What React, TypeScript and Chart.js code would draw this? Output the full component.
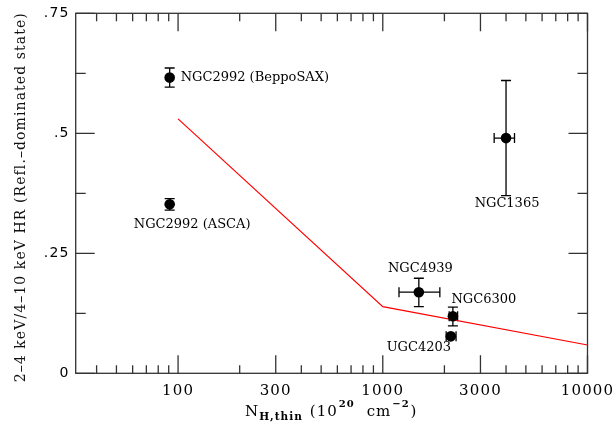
import React, { useEffect, useRef } from 'react';
import { Chart, registerables } from 'chart.js';

Chart.register(...registerables);

// ---- data ----
const SOURCES = ['NGC2992 (BeppoSAX)', 'NGC2992 (ASCA)', 'NGC1365', 'NGC4939', 'NGC6300', 'UGC4203'];
const NH = [91, 91, 4000, 1500, 2200, 2150];
const NH_LO = [91, 91, 3500, 1200, 2110, 2040];
const NH_HI = [91, 91, 4400, 1900, 2320, 2280];
const HR = [0.616, 0.352, 0.49, 0.169, 0.119, 0.077];
const HR_LO = [0.596, 0.34, 0.37, 0.139, 0.099, 0.077];
const HR_HI = [0.636, 0.364, 0.61, 0.198, 0.138, 0.077];

const MODEL_NH = [100, 1000, 10000];
const MODEL_HR = [0.53, 0.139, 0.059];

const X_MIN = 31.62;
const X_MAX = 10000;
const X_TICKS = [100, 300, 1000, 3000, 10000];
const X_TICK_LABELS = ['100', '300', '1000', '3000', '10000'];
const X_MINOR = [40, 50, 60, 70, 80, 90, 200, 400, 500, 600, 700, 800, 900, 2000, 4000, 5000, 6000, 7000, 8000, 9000];
const Y_MIN = 0;
const Y_MAX = 0.75;
const Y_TICKS = [0, 0.25, 0.5, 0.75];
const Y_TICK_LABELS = ['0', '.25', '.5', '.75'];
const Y_MINOR = [0.125, 0.375, 0.625];

const Y_TITLE = '2–4 keV/4–10 keV HR (Refl.–dominated state)';

// label placement relative to each point (style only)
const LABEL_STYLE: { dx: number; dy: number; align: CanvasTextAlign }[] = [
  { dx: 11, dy: 0, align: 'left' },
  { dx: 22.5, dy: 20, align: 'center' },
  { dx: 1, dy: 66, align: 'center' },
  { dx: 1.5, dy: -24, align: 'center' },
  { dx: 31, dy: -17, align: 'center' },
  { dx: -32, dy: 11, align: 'center' },
];

const SERIF = '"DejaVu Serif", serif';
const SANS = '"DejaVu Sans", sans-serif';

const framePlugin = {
  id: 'framePlugin',
  beforeDraw(chart: any) {
    chart.ctx.letterSpacing = '1.2px';
  },
  beforeDatasetsDraw(chart: any) {
    const ctx: CanvasRenderingContext2D = chart.ctx;
    ctx.letterSpacing = '0px';
    const { left, right, top, bottom } = chart.chartArea;
    const xs = chart.scales.x;
    const ys = chart.scales.y;
    ctx.save();
    ctx.strokeStyle = '#333';
    ctx.lineWidth = 1.3;
    ctx.strokeRect(left, top, right - left, bottom - top);
    ctx.beginPath();
    const xt = (v: number, len: number) => {
      const p = xs.getPixelForValue(v);
      ctx.moveTo(p, bottom);
      ctx.lineTo(p, bottom - len);
      ctx.moveTo(p, top);
      ctx.lineTo(p, top + len);
    };
    const yt = (v: number, len: number) => {
      const p = ys.getPixelForValue(v);
      ctx.moveTo(left, p);
      ctx.lineTo(left + len, p);
      ctx.moveTo(right, p);
      ctx.lineTo(right - len, p);
    };
    X_TICKS.forEach((v) => xt(v, 18));
    X_MINOR.forEach((v) => xt(v, 8));
    Y_TICKS.forEach((v) => yt(v, 19));
    Y_MINOR.forEach((v) => yt(v, 10));
    ctx.stroke();

    // error bars
    ctx.strokeStyle = '#000';
    ctx.lineWidth = 1.3;
    ctx.beginPath();
    const cap = 5;
    for (let i = 0; i < NH.length; i++) {
      const px = xs.getPixelForValue(NH[i]);
      const py = ys.getPixelForValue(HR[i]);
      if (HR_HI[i] !== HR_LO[i]) {
        const y1 = ys.getPixelForValue(HR_HI[i]);
        const y2 = ys.getPixelForValue(HR_LO[i]);
        ctx.moveTo(px, y1);
        ctx.lineTo(px, y2);
        ctx.moveTo(px - cap, y1);
        ctx.lineTo(px + cap, y1);
        ctx.moveTo(px - cap, y2);
        ctx.lineTo(px + cap, y2);
      }
      if (NH_HI[i] !== NH_LO[i]) {
        const x1 = xs.getPixelForValue(NH_LO[i]);
        const x2 = xs.getPixelForValue(NH_HI[i]);
        ctx.moveTo(x1, py);
        ctx.lineTo(x2, py);
        ctx.moveTo(x1, py - cap);
        ctx.lineTo(x1, py + cap);
        ctx.moveTo(x2, py - cap);
        ctx.lineTo(x2, py + cap);
      }
    }
    ctx.stroke();
    ctx.restore();
  },
  afterDatasetsDraw(chart: any) {
    const ctx: CanvasRenderingContext2D = chart.ctx;
    const xs = chart.scales.x;
    const ys = chart.scales.y;
    ctx.save();
    ctx.letterSpacing = '0px';
    ctx.fillStyle = '#000';
    // point labels
    ctx.font = `13px ${SERIF}`;
    ctx.textBaseline = 'middle';
    SOURCES.forEach((name, i) => {
      const s = LABEL_STYLE[i];
      ctx.textAlign = s.align;
      ctx.fillText(name, xs.getPixelForValue(NH[i]) + s.dx, ys.getPixelForValue(HR[i]) + s.dy);
    });

    // x title with sub/superscripts
    const B = 415.7;
    const pieces: { t: string; font: string; dy: number; gap: number }[] = [
      { t: 'N', font: `15px ${SERIF}`, dy: 0, gap: 0 },
      { t: 'H,thin', font: `bold 10.5px ${SERIF}`, dy: 4.3, gap: 0 },
      { t: '(10', font: `15px ${SERIF}`, dy: 0, gap: 7 },
      { t: '20', font: `bold 10px ${SERIF}`, dy: -9, gap: 1 },
      { t: 'cm', font: `15px ${SERIF}`, dy: 0, gap: 12 },
      { t: '−2', font: `bold 10px ${SERIF}`, dy: -9, gap: 1 },
      { t: ')', font: `15px ${SERIF}`, dy: 0, gap: 1 },
    ];
    ctx.letterSpacing = '1px';
    let x = 245;
    ctx.textAlign = 'left';
    ctx.textBaseline = 'alphabetic';
    pieces.forEach((p) => {
      x += p.gap;
      ctx.font = p.font;
      ctx.fillText(p.t, x, B + p.dy);
      x += ctx.measureText(p.t).width;
    });

    // y title
    ctx.letterSpacing = '0px';
    ctx.font = `14px ${SERIF}`;
    const w14 = ctx.measureText(Y_TITLE).width;
    const sp = Math.max(0, (370 - w14) / Y_TITLE.length);
    ctx.letterSpacing = `${sp.toFixed(2)}px`;
    ctx.fillStyle = '#111';
    ctx.translate(25, 196.7 + sp / 2);
    ctx.rotate(-Math.PI / 2);
    ctx.textAlign = 'center';
    ctx.fillText(Y_TITLE, 0, 0);
    ctx.restore();
  },
};

export default function App() {
  const ref = useRef<HTMLCanvasElement | null>(null);
  useEffect(() => {
    if (!ref.current) return;
    const chart = new Chart(ref.current, {
      type: 'scatter',
      data: {
        datasets: [
          {
            type: 'scatter',
            data: NH.map((x, i) => ({ x, y: HR[i] })),
            pointRadius: 5.3,
            pointBackgroundColor: '#000',
            pointBorderWidth: 0,
            pointBorderColor: '#000',
          } as any,
          {
            type: 'line',
            data: MODEL_NH.map((x, i) => ({ x, y: MODEL_HR[i] })),
            borderColor: '#ff0000',
            borderWidth: 1.2,
            pointRadius: 0,
            fill: false,
            tension: 0,
          } as any,
        ],
      },
      options: {
        animation: false,
        responsive: true,
        maintainAspectRatio: false,
        events: [],
        layout: { padding: { left: 0, right: 28.5, top: 13.3, bottom: 0 } },
        plugins: { legend: { display: false }, tooltip: { enabled: false }, title: { display: false } },
        scales: {
          x: {
            type: 'logarithmic',
            min: X_MIN,
            max: X_MAX,
            grid: { display: false, drawTicks: false },
            border: { display: false },
            afterBuildTicks: (scale: any) => {
              scale.ticks = X_TICKS.map((v) => ({ value: v }));
            },
            afterFit: (scale: any) => {
              scale.height = 49.7;
              scale.paddingLeft = 0;
              scale.paddingRight = 0;
            },
            ticks: {
              autoSkip: false,
              maxRotation: 0,
              padding: 8.5,
              color: '#000',
              font: { family: SERIF, size: 15 },
              callback: (_v: any, i: number) => X_TICK_LABELS[i],
            },
          } as any,
          y: {
            type: 'linear',
            min: Y_MIN,
            max: Y_MAX,
            grid: { display: false, drawTicks: false },
            border: { display: false },
            afterBuildTicks: (scale: any) => {
              scale.ticks = Y_TICKS.map((v) => ({ value: v }));
            },
            afterFit: (scale: any) => {
              scale.width = 75.7;
              scale.paddingTop = 0;
              scale.paddingBottom = 0;
            },
            ticks: {
              autoSkip: false,
              padding: 6,
              color: '#000',
              font: { family: SANS, size: 14 },
              callback: (_v: any, i: number) => Y_TICK_LABELS[i],
            },
          } as any,
        },
      },
      plugins: [framePlugin],
    } as any);
    return () => chart.destroy();
  }, []);
  return (
    <div style={{ position: 'fixed', left: 0, top: 0, width: 616, height: 423, background: '#fff' }}>
      <canvas ref={ref} />
    </div>
  );
}
